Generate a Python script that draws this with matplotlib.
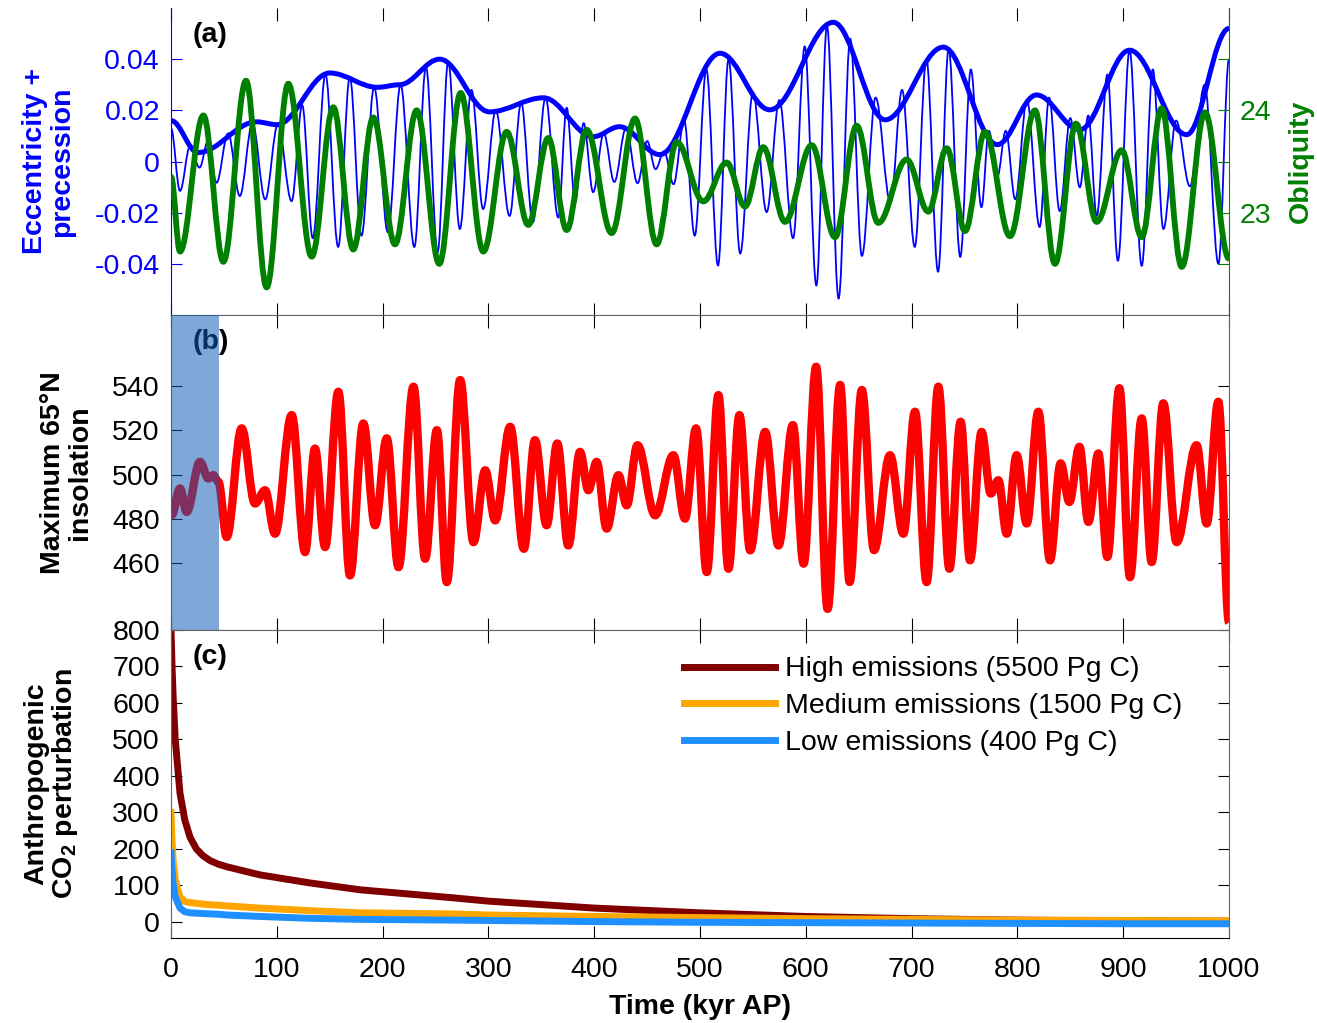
import matplotlib
matplotlib.use("Agg")
import matplotlib.pyplot as plt
from matplotlib.path import Path
from matplotlib.patches import PathPatch

plt.rcParams['font.family'] = ['Liberation Sans', 'DejaVu Sans']
plt.rcParams['font.size'] = 20.5
plt.rcParams['mathtext.fontset'] = 'custom'
plt.rcParams['mathtext.rm'] = 'Liberation Sans:bold'

# ---- panel (a): eccentricity envelope (kyr AP, value)
ecc_t = [0, 25.5, 81, 100, 150, 195, 216, 254, 301, 352, 399, 424, 462, 519, 566,
         626, 675, 730, 781, 818, 859, 906, 960, 1000]
ecc_v = [0.016, 0.0035, 0.0155, 0.0144, 0.0346, 0.029, 0.030, 0.040, 0.0194, 0.0249,
         0.0097, 0.0136, 0.0027, 0.0423, 0.0202, 0.0544, 0.0163, 0.0447, 0.0066,
         0.026, 0.0124, 0.0435, 0.0105, 0.052]

# precession index, alternating turning points
prec_t = [0, 8.5, 18, 27, 35, 43, 54, 65, 77, 89, 101, 114, 124, 134, 146, 158, 169,
          180, 192, 205, 217, 230, 241, 252, 262, 273, 284, 295, 307, 320, 331, 342,
          354, 366, 374, 382, 390, 399, 409, 419, 430, 441, 450, 458, 466, 475, 485,
          495, 506, 517, 527, 538, 550, 563, 575, 588, 599, 610, 620, 631, 642, 653,
          666, 680, 691, 703, 714, 725, 735, 746, 756, 766, 773, 781, 789, 798, 809,
          821, 830, 840, 850, 859, 867, 875, 885, 895, 906, 917.5, 928, 938, 950, 963,
          977, 990, 1000]
prec_v = [0.013, -0.0115, 0.006, -0.0024, 0.008, -0.0083, 0.011, -0.0135, 0.015,
          -0.0148, 0.0145, -0.0155, 0.022, -0.030, 0.034, -0.0334, 0.033, -0.029,
          0.029, -0.0277, 0.030, -0.0334, 0.037, -0.0354, 0.039, -0.0264, 0.028,
          -0.0186, 0.020, -0.0213, 0.023, -0.0238, 0.025, -0.0219, 0.021, -0.016,
          0.015, -0.012, 0.011, -0.008, 0.013, -0.0085, 0.008, -0.003, 0.004, -0.0089,
          0.016, -0.029, 0.036, -0.0407, 0.040, -0.036, 0.027, -0.0198, 0.024, -0.030,
          0.045, -0.0485, 0.053, -0.0536, 0.048, -0.0369, 0.025, -0.016, 0.028,
          -0.0334, 0.040, -0.0431, 0.044, -0.0373, 0.036, -0.0179, 0.012, -0.006,
          0.012, -0.0148, 0.024, -0.0256, 0.025, -0.0194, 0.017, -0.0101, 0.018,
          -0.0213, 0.034, -0.0388, 0.0435, -0.0408, 0.036, -0.0264, 0.016, -0.0097,
          0.030, -0.040, 0.040]

# obliquity (degrees)
obl_t = [0, 8.5, 30.6, 49.5, 70.9, 90.4, 110.9, 133, 153.4, 172.3, 191.2, 211.7, 232.2,
         253.6, 273.8, 295.2, 317.3, 337.7, 356.6, 374, 392.9, 416.5, 438.6, 459, 478,
         503.1, 525.2, 542.5, 559.8, 580.3, 605.6, 627.6, 648.1, 668.5, 695.3, 715.8,
         733.2, 750.5, 769.4, 793, 816.6, 835.5, 855.4, 874.9, 898.6, 917.5, 936.4,
         955.3, 977.3, 1000]
obl_v = [23.35, 22.62, 23.95, 22.52, 24.29, 22.27, 24.26, 22.57, 24.03, 22.64, 23.93,
         22.69, 24.0, 22.5, 24.17, 22.62, 23.79, 22.88, 23.73, 22.83, 23.81, 22.8, 23.92,
         22.69, 23.69, 23.11, 23.49, 23.06, 23.64, 22.91, 23.66, 22.76, 23.85, 22.9,
         23.52, 23.01, 23.63, 22.82, 23.79, 22.77, 24.0, 22.5, 23.87, 22.91, 23.61,
         22.76, 24.02, 22.47, 23.98, 22.55]

# ---- panel (b): maximum 65N insolation
ins_t = [0.6, 8.5, 14.8, 27.4, 35.3, 40, 44.8, 52.6, 66.8, 79.4, 88.9, 98.3, 114.1,
         126.7, 136.1, 145.6, 158.2, 169.2, 181.8, 192.9, 203.9, 215, 229.2, 240.2,
         251.3, 260.7, 273.3, 285.9, 297, 306.4, 320.6, 333.5, 344, 355, 365.1, 375.5,
         386.6, 394.5, 402.3, 411.8, 422.9, 430.7, 440.9, 457.6, 474.8, 485.8, 496.3,
         506.4, 517.4, 526.9, 537.3, 547.4, 561.6, 574.2, 587.8, 597.9, 609.8, 620.6,
         632.5, 641.4, 653, 664.5, 679.6, 692.2, 703.2, 714.2, 725.3, 735.7, 746.4,
         755.2, 766.2, 774.8, 782, 789.9, 799.3, 808.8, 819.8, 830.8, 840.9, 849.1,
         858.6, 867.1, 876.5, 885, 896.4, 906.4, 917.5, 926.9, 937.9, 950.5, 969.4,
         978.9, 989.9, 1000]
ins_v = [481.7, 493.8, 483.2, 505.8, 498.3, 499.8, 496.8, 471.9, 520.9, 487, 493, 473.4,
         526.9, 465.1, 511.8, 467.4, 537.4, 454.6, 523.1, 477.2, 516.4, 458.3, 539.7,
         462.1, 520.1, 451.6, 542.7, 469.6, 502, 479.4, 521.6, 466.6, 515.6, 477.2,
         514.1, 468.1, 510.3, 493, 505.8, 475.7, 499.8, 486.2, 513.3, 481.7, 508.8,
         480.2, 520.9, 456.1, 535.9, 457.6, 526.9, 465.9, 519.3, 468.1, 522.4, 459.9,
         548.7, 439.5, 540.5, 451.6, 538.2, 466, 508.8, 473.4, 528.4, 451.6, 539.7,
         457.6, 523.9, 461.4, 519.3, 491.5, 497.5, 473.4, 508.8, 478, 528.4, 461.4,
         505.1, 487.7, 512.6, 478.7, 509.6, 462.9, 539, 453.8, 525.4, 460.6, 532.2,
         469.6, 513.3, 478, 532.9, 433.5]

# ---- panel (c): anthropogenic CO2 perturbation
co2_t = [0, 1, 2, 4, 8.5, 13, 18, 24, 30, 37, 45, 53, 84, 131, 179, 267, 300, 400,
         500, 600, 700, 800, 900, 1000]
co2_high = [800, 700, 620, 500, 353, 280, 232, 200, 182, 168, 158, 151, 129, 107, 88,
            66, 57, 38, 25, 15, 9, 5, 3, 2]
co2_med = [300, 220, 170, 115, 68, 56, 53, 51, 49, 47, 46, 44, 38, 31, 25, 22, 19, 15,
           12, 9, 7, 5, 4, 3]
co2_low = [190, 140, 105, 69, 38, 28, 25, 24, 23, 22, 21, 19, 15, 10, 7, 5, 4, 1, -1,
           -2, -3, -4, -5, -5]
co2_labels = ['High emissions (5500 Pg C)', 'Medium emissions (1500 Pg C)',
              'Low emissions (400 Pg C)']


def smooth_line(ax, x, y, **kw):
    # cubic segments between turning points, flat tangent at each point
    verts = [(x[0], y[0])]
    codes = [Path.MOVETO]
    for i in range(len(x) - 1):
        dx = x[i + 1] - x[i]
        verts += [(x[i] + 0.36 * dx, y[i]), (x[i + 1] - 0.36 * dx, y[i + 1]),
                  (x[i + 1], y[i + 1])]
        codes += [Path.CURVE4] * 3
    ax.add_patch(PathPatch(Path(verts, codes), fill=False, joinstyle='round',
                           capstyle='butt', **kw))


fig = plt.figure(figsize=(13.17, 10.23), dpi=100)
L, W = 171 / 1317, (1229 - 171) / 1317
ax_a = fig.add_axes([L, 1 - 315 / 1023, W, 307 / 1023])
ax_b = fig.add_axes([L, 1 - 630 / 1023, W, 315 / 1023])
ax_c = fig.add_axes([L, 1 - 938 / 1023, W, 308 / 1023])
ax_o = ax_a.twinx()

spine_col = '#666666'
xticks = range(0, 1001, 100)

# (a)
smooth_line(ax_a, prec_t, prec_v, color='#0000ff', lw=1.3, zorder=2)
smooth_line(ax_a, ecc_t, ecc_v, color='#0000ff', lw=3.6, zorder=3)
smooth_line(ax_o, obl_t, obl_v, color='#008000', lw=4.2, zorder=2)
ax_a.set_ylim(-0.06, 0.06)
ax_o.set_ylim(22, 25)
ax_a.set_yticks([-0.04, -0.02, 0, 0.02, 0.04])
ax_a.set_yticklabels(['-0.04', '-0.02', '0', '0.02', '0.04'])
ax_o.set_yticks([22.5, 23, 23.5, 24, 24.5])
ax_o.set_yticklabels(['', '23', '', '24', ''])
ax_a.tick_params(axis='y', direction='in', length=8, colors='#0000ff', pad=8)
ax_o.tick_params(axis='y', direction='in', length=8, colors='#008000', pad=8)
ax_a.set_ylabel('Eccentricity +\nprecession', color='#0000ff', fontweight='bold',
                linespacing=1.05)
ax_a.yaxis.set_label_coords(-0.0907, 0.5)
ax_o.set_ylabel('Obliquity', color='#008000', fontweight='bold')
ax_o.yaxis.set_label_coords(1.056, 0.5)
ax_a.spines['top'].set_visible(False)
ax_o.spines['top'].set_visible(False)
ax_a.spines['left'].set_color('#0000ff')
ax_o.spines['left'].set_visible(False)
ax_a.spines['right'].set_visible(False)
ax_o.spines['right'].set_color('#008000')
ax_a.spines['bottom'].set_color(spine_col)
ax_o.spines['bottom'].set_visible(False)
ax_a.text(0.02, 0.955, '(a)', transform=ax_a.transAxes, fontweight='bold',
          va='top', ha='left')

# (b)
smooth_line(ax_b, ins_t, ins_v, color='#ff0000', lw=6, zorder=2)
ax_b.axvspan(0, 45, color='#0d5cb6', alpha=0.53, lw=0, zorder=4)
ax_b.set_ylim(430, 572)
ax_b.set_yticks([460, 480, 500, 520, 540])
ax_b.tick_params(axis='y', direction='in', length=8, right=True, pad=8)
ax_b.set_ylabel('Maximum 65°N\ninsolation', fontweight='bold', linespacing=1.05)
ax_b.yaxis.set_label_coords(-0.0737, 0.5)
ax_b.text(0.02, 0.955, '(b)', transform=ax_b.transAxes, fontweight='bold',
          va='top', ha='left', zorder=1)

# (c)
ax_c.plot(co2_t, co2_high, color='#800000', lw=5, label=co2_labels[0])
ax_c.plot(co2_t, co2_med, color='#ffa500', lw=5, label=co2_labels[1])
ax_c.plot(co2_t, co2_low, color='#1e90ff', lw=5, label=co2_labels[2])
ax_c.set_ylim(-44, 800)
ax_c.set_yticks(range(0, 801, 100))
ax_c.tick_params(axis='y', direction='in', length=8, right=True, pad=8)
ax_c.set_ylabel('Anthropogenic\nCO$_2$ perturbation', fontweight='bold',
                linespacing=1.05)
ax_c.yaxis.set_label_coords(-0.086, 0.5)
ax_c.set_xlabel('Time (kyr AP)', fontweight='bold', labelpad=8)
ax_c.text(0.02, 0.955, '(c)', transform=ax_c.transAxes, fontweight='bold',
          va='top', ha='left')
ax_c.legend(loc='upper left', bbox_to_anchor=(0.485, 0.914), frameon=False,
            handlelength=3.2, handletextpad=0.35, labelspacing=0.37, borderpad=0,
            borderaxespad=0)

for ax in (ax_a, ax_b, ax_c):
    ax.set_xlim(0, 1000)
    ax.set_xticks(xticks)
    ax.tick_params(axis='x', direction='in', length=9, top=True, bottom=True,
                   labelbottom=(ax is ax_c), pad=13.5)
for ax in (ax_b, ax_c):
    for s in ax.spines.values():
        s.set_color(spine_col)
ax_c.spines['bottom'].set_color('black')

fig.savefig('out.png', dpi=100)
